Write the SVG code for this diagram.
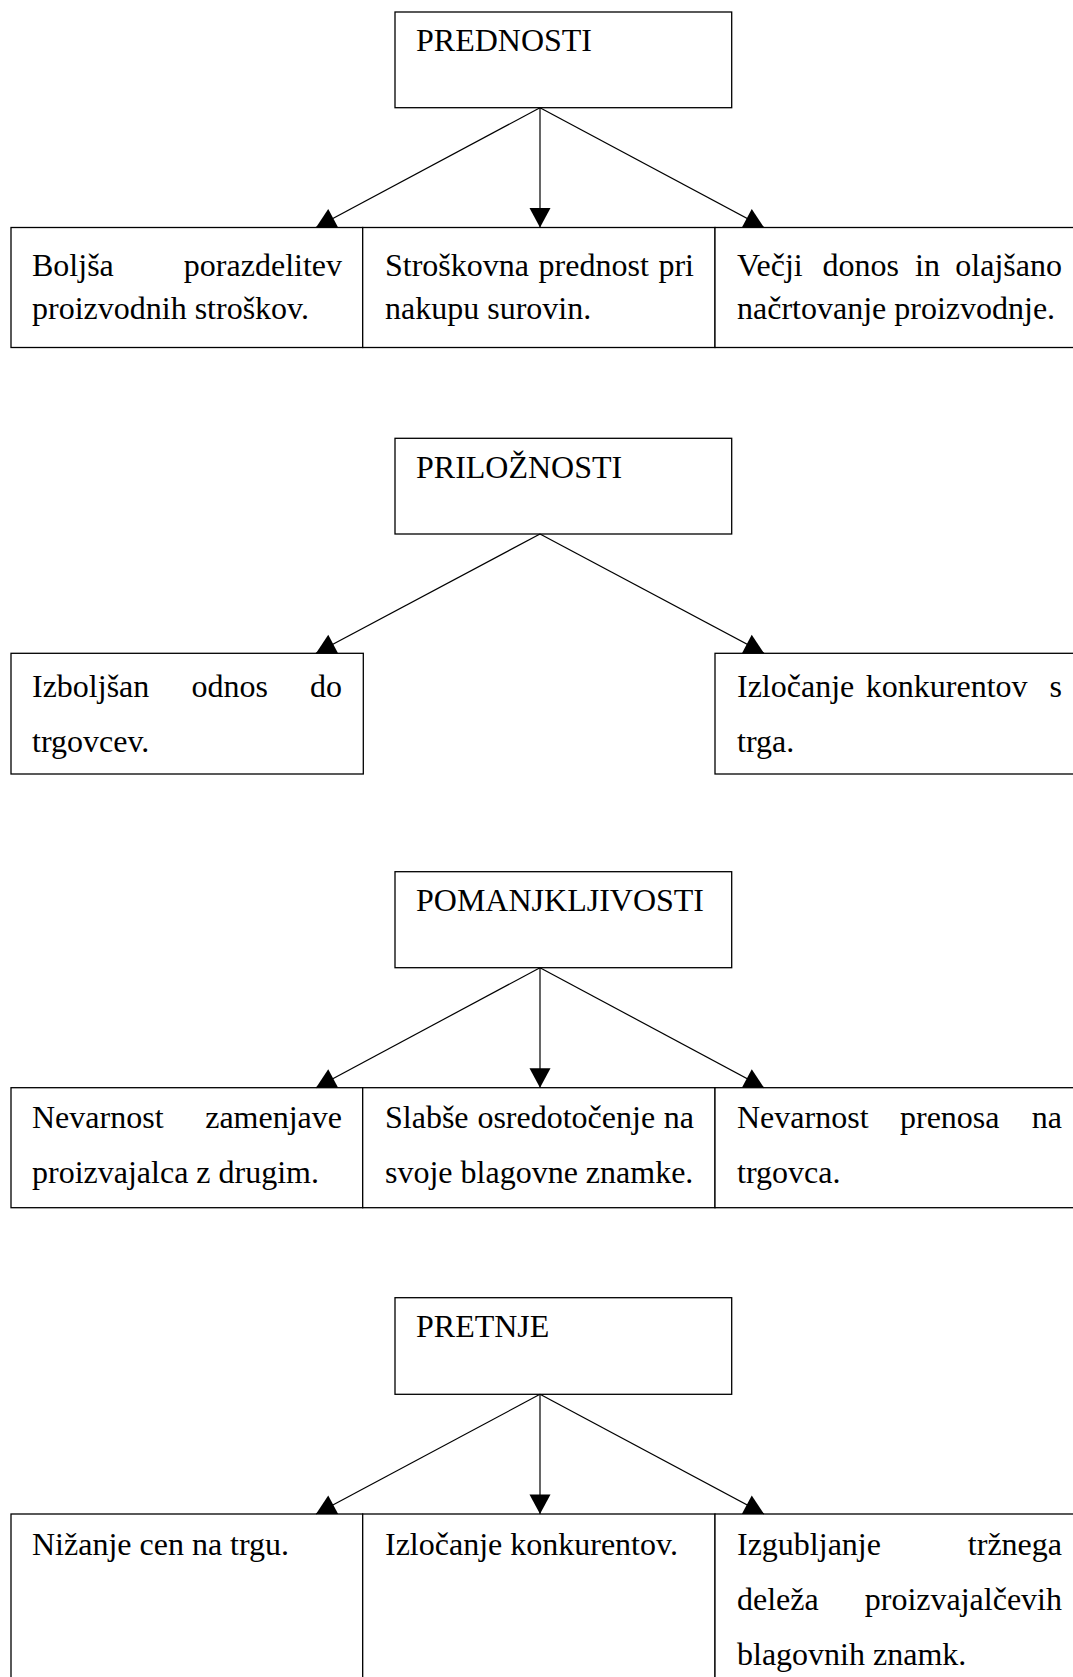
<svg xmlns="http://www.w3.org/2000/svg" width="1073" height="1677" viewBox="0 0 1073 1677">
<style>
.box{fill:#fff;stroke:#000;stroke-width:1.3}
.t{font-family:"Liberation Serif","Times New Roman",serif;font-size:32px;fill:#000}
.e{text-anchor:end}
.c{stroke:#000;stroke-width:1.2;fill:none;marker-end:url(#ah)}
</style>
<defs>
<marker id="ah" markerUnits="userSpaceOnUse" markerWidth="21" markerHeight="22" refX="19.5" refY="10.5" orient="auto" overflow="visible">
<path d="M0,0 L19.5,10.5 L0,21 z" fill="#000"/>
</marker>
</defs>
<rect width="1073" height="1677" fill="#fff"/>

<!-- Row 1 -->
<g id="prednosti"><rect class="box" x="395" y="12" width="336.7" height="95.7"/><text class="t" x="416" y="51">PREDNOSTI</text></g>
<g id="p1"><rect class="box" x="11" y="227.5" width="351.7" height="120"/>
<text class="t" x="32" y="276">Boljša</text><text class="t e" x="342" y="276">porazdelitev</text>
<text class="t" x="32" y="319">proizvodnih stroškov.</text></g>
<g id="p2"><rect class="box" x="362.7" y="227.5" width="352.3" height="120"/>
<text class="t" y="276"><tspan x="385">Stroškovna</tspan><tspan x="538.6">prednost</tspan><tspan x="658.4">pri</tspan></text>
<text class="t" x="385" y="319">nakupu surovin.</text></g>
<g id="p3"><rect class="box" x="715" y="227.5" width="375" height="120"/>
<text class="t" y="276"><tspan x="737">Večji</tspan><tspan x="822.5">donos</tspan><tspan x="915.1">in</tspan></text><text class="t e" x="1062" y="276">olajšano</text>
<text class="t" x="737" y="319">načrtovanje proizvodnje.</text></g>

<!-- Row 2 -->
<g id="priloznosti"><rect class="box" x="395" y="438.3" width="336.7" height="95.7"/><text class="t" x="416" y="478">PRILOŽNOSTI</text></g>
<g id="o1"><rect class="box" x="11" y="653.3" width="352.3" height="120.7"/>
<text class="t" y="697"><tspan x="32">Izboljšan</tspan><tspan x="191.5">odnos</tspan></text><text class="t e" x="342" y="697">do</text>
<text class="t" x="32" y="752">trgovcev.</text></g>
<g id="o2"><rect class="box" x="715" y="653.3" width="375" height="120.7"/>
<text class="t" y="697"><tspan x="737">Izločanje</tspan><tspan x="865.8">konkurentov</tspan></text><text class="t e" x="1062" y="697">s</text>
<text class="t" x="737" y="752">trga.</text></g>

<!-- Row 3 -->
<g id="pomanjkljivosti"><rect class="box" x="395" y="871.7" width="336.7" height="96"/><text class="t" x="416" y="911">POMANJKLJIVOSTI</text></g>
<g id="w1"><rect class="box" x="11" y="1087.7" width="351.7" height="120"/>
<text class="t" x="32" y="1128">Nevarnost</text><text class="t e" x="342" y="1128">zamenjave</text>
<text class="t" x="32" y="1183">proizvajalca z drugim.</text></g>
<g id="w2"><rect class="box" x="362.7" y="1087.7" width="352.3" height="120"/>
<text class="t" y="1128"><tspan x="385">Slabše</tspan><tspan x="477.4">osredotočenje</tspan></text><text class="t e" x="694" y="1128">na</text>
<text class="t" x="385" y="1183">svoje blagovne znamke.</text></g>
<g id="w3"><rect class="box" x="715" y="1087.7" width="375" height="120"/>
<text class="t" y="1128"><tspan x="737">Nevarnost</tspan><tspan x="900">prenosa</tspan></text><text class="t e" x="1062" y="1128">na</text>
<text class="t" x="737" y="1183">trgovca.</text></g>

<!-- Row 4 -->
<g id="pretnje"><rect class="box" x="395" y="1297.7" width="336.7" height="96.6"/><text class="t" x="416" y="1337">PRETNJE</text></g>
<g id="t1"><rect class="box" x="11" y="1514" width="351.7" height="200"/>
<text class="t" x="32" y="1554.5">Nižanje cen na trgu.</text></g>
<g id="t2"><rect class="box" x="362.7" y="1514" width="352.3" height="200"/>
<text class="t" x="385" y="1554.5">Izločanje konkurentov.</text></g>
<g id="t3"><rect class="box" x="715" y="1514" width="375" height="200"/>
<text class="t" x="737" y="1554.5">Izgubljanje</text><text class="t e" x="1062" y="1554.5">tržnega</text>
<text class="t" x="737" y="1609.5">deleža</text><text class="t e" x="1062" y="1609.5">proizvajalčevih</text>
<text class="t" x="737" y="1664.5">blagovnih znamk.</text></g>

<g id="connectors">
<line class="c" x1="540" y1="107.7" x2="316" y2="227.5"/>
<line class="c" x1="540" y1="107.7" x2="540" y2="227.5"/>
<line class="c" x1="540" y1="107.7" x2="764" y2="227.5"/>
<line class="c" x1="540" y1="534" x2="316" y2="653.3"/>
<line class="c" x1="540" y1="534" x2="764" y2="653.3"/>
<line class="c" x1="540" y1="967.7" x2="316" y2="1087.7"/>
<line class="c" x1="540" y1="967.7" x2="540" y2="1087.7"/>
<line class="c" x1="540" y1="967.7" x2="764" y2="1087.7"/>
<line class="c" x1="540" y1="1394.3" x2="316" y2="1514"/>
<line class="c" x1="540" y1="1394.3" x2="540" y2="1514"/>
<line class="c" x1="540" y1="1394.3" x2="764" y2="1514"/>
</g>
</svg>
